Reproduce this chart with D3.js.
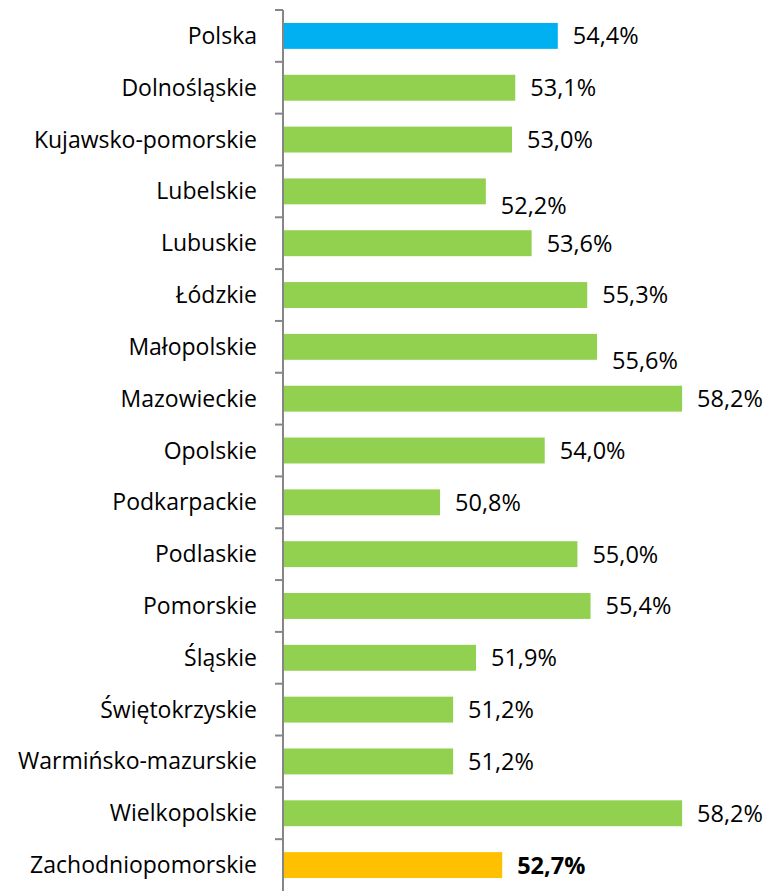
<!DOCTYPE html>
<html>
<head>
<meta charset="utf-8">
<script src="https://cdn.jsdelivr.net/npm/d3@7"></script>
<style>
  body { margin: 0; background: #fff; }
  svg { display: block; font-family: "Open Sans", "Noto Sans", sans-serif; }
</style>
</head>
<body>
<div id="chart"></div>
<script>
// --- Data ---
const regions = [
  "Polska", "Dolnośląskie", "Kujawsko-pomorskie", "Lubelskie", "Lubuskie",
  "Łódzkie", "Małopolskie", "Mazowieckie", "Opolskie", "Podkarpackie",
  "Podlaskie", "Pomorskie", "Śląskie", "Świętokrzyskie",
  "Warmińsko-mazurskie", "Wielkopolskie", "Zachodniopomorskie"
];
const shares = [
  54.4, 53.1, 53.0, 52.2, 53.6, 55.3, 55.6, 58.2, 54.0, 50.8,
  55.0, 55.4, 51.9, 51.2, 51.2, 58.2, 52.7
];
const nationalRegion = "Polska";
const highlightRegion = "Zachodniopomorskie";
// Excel pushed these labels down a bit to avoid overlap
const loweredLabels = ["Lubelskie", "Małopolskie"];

const width = 764, height = 891;
const margin = { top: 10, right: 23, bottom: 0, left: 283 };

const svg = d3.select("#chart").append("svg")
  .attr("width", width)
  .attr("height", height);

const x = d3.scaleLinear()
  .domain([46, 60])
  .range([margin.left, width - margin.right]);

const y = d3.scaleBand()
  .domain(regions)
  .range([margin.top, height - margin.bottom])
  .paddingInner(0.5)
  .paddingOuter(0.25);

const colorFor = (r) =>
  r === nationalRegion ? "#00B0F0" : r === highlightRegion ? "#FFC000" : "#92D050";

const data = regions.map((r, i) => ({ region: r, value: shares[i] }));

// bars
svg.append("g")
  .selectAll("rect")
  .data(data)
  .join("rect")
  .attr("x", x(46))
  .attr("y", (d) => y(d.region))
  .attr("width", (d) => x(d.value) - x(46))
  .attr("height", y.bandwidth())
  .attr("fill", (d) => colorFor(d.region));

// category axis with ticks between categories
const axis = svg.append("g").attr("transform", `translate(${x(46)},0)`);
axis.append("line")
  .attr("y1", margin.top)
  .attr("y2", height)
  .attr("stroke", "#868686")
  .attr("stroke-width", 2);
const step = y.step();
const tickYs = d3.range(regions.length).map((i) => margin.top + i * step);
axis.selectAll(".tick")
  .data(tickYs)
  .join("line")
  .attr("class", "tick")
  .attr("x1", -8)
  .attr("x2", 0)
  .attr("y1", (d) => d)
  .attr("y2", (d) => d)
  .attr("stroke", "#868686")
  .attr("stroke-width", 2);

// category labels
svg.append("g")
  .selectAll("text")
  .data(data)
  .join("text")
  .attr("x", x(46) - 26)
  .attr("y", (d) => y(d.region) + y.bandwidth() / 2)
  .attr("dy", "0.35em")
  .attr("text-anchor", "end")
  .attr("font-size", 23)
  .attr("fill", "#000")
  .text((d) => d.region);

// value labels
const fmt = (v) => v.toFixed(1).replace(".", ",") + "%";
svg.append("g")
  .selectAll("text")
  .data(data)
  .join("text")
  .attr("x", (d) => x(d.value) + 15)
  .attr("y", (d) => y(d.region) + y.bandwidth() / 2 + (loweredLabels.includes(d.region) ? 14 : 0))
  .attr("dy", "0.36em")
  .attr("font-size", 23.5)
  .attr("font-weight", (d) => (d.region === highlightRegion ? "bold" : "normal"))
  .attr("fill", "#000")
  .text((d) => fmt(d.value));
</script>
</body>
</html>
